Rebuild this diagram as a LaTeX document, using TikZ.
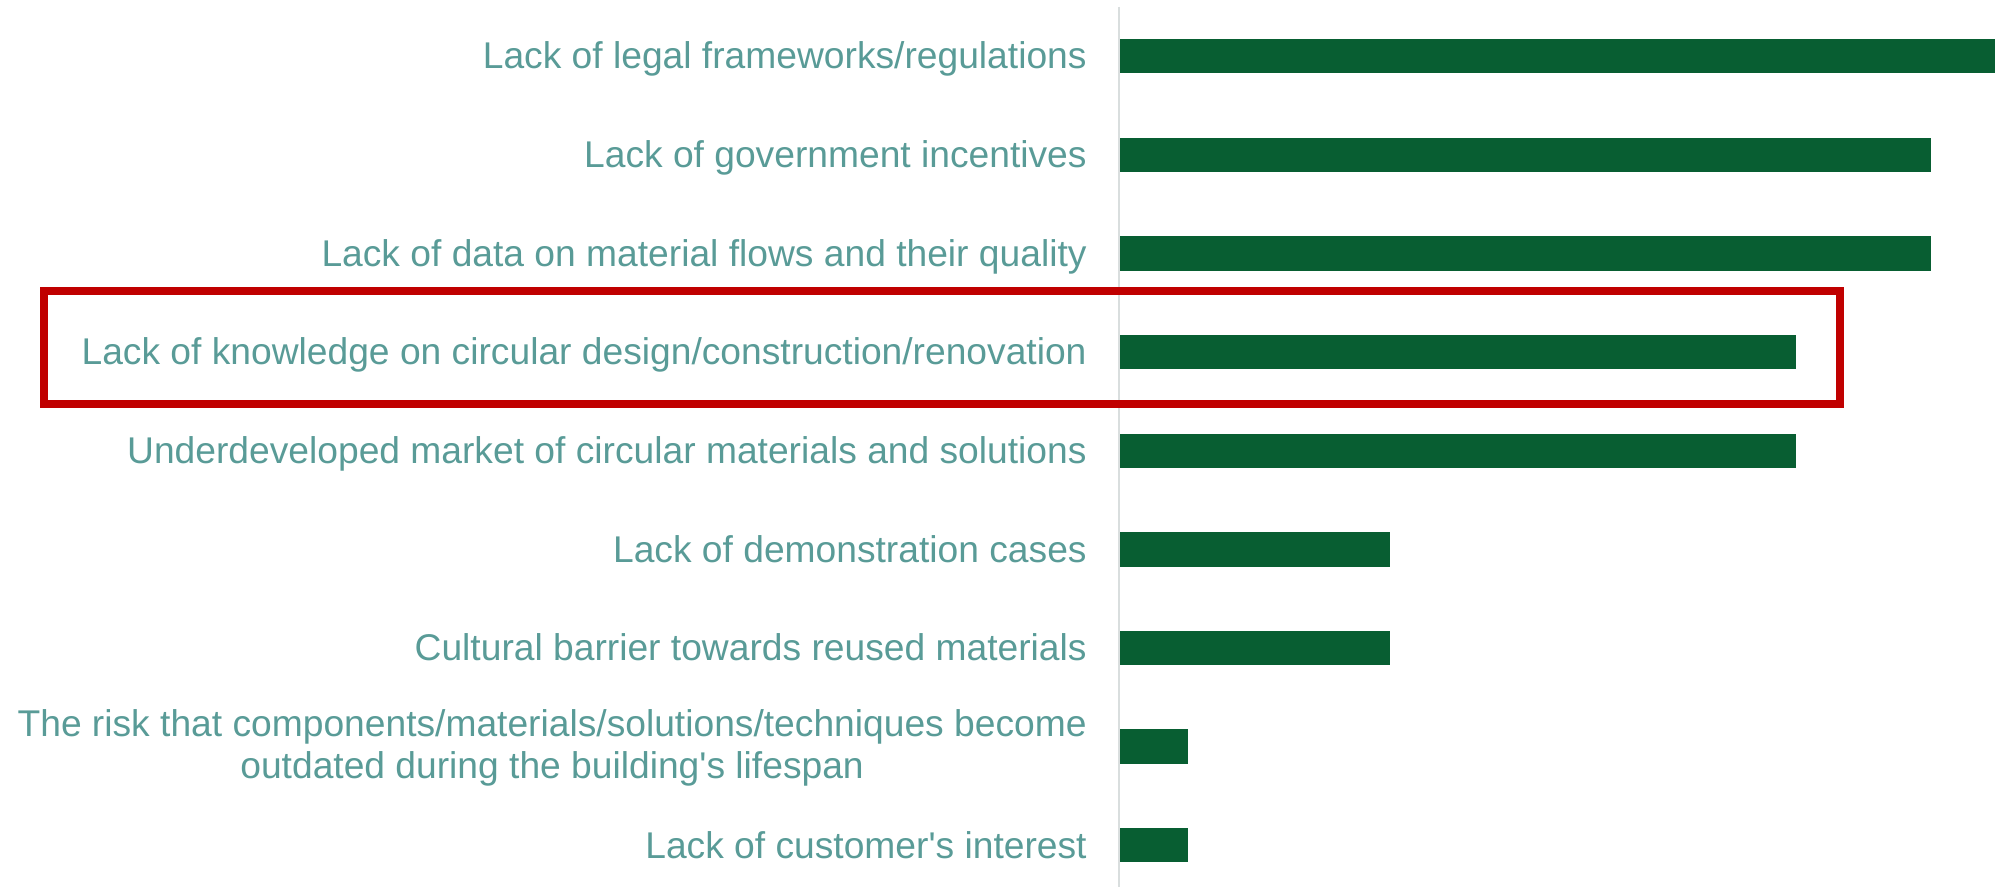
\documentclass[tikz,border=0pt]{standalone}
\usepackage{fontspec}
\setmainfont{Liberation Sans}
\definecolor{lbl}{RGB}{89,155,151}
\definecolor{bargreen}{RGB}{8,94,50}
\definecolor{axisgray}{RGB}{217,222,222}
\definecolor{boxred}{RGB}{192,0,0}
\begin{document}
\begin{tikzpicture}[x=0.5pt,y=-0.5pt,
  lab/.style={anchor=base east,inner sep=0pt,text=lbl,font=\fontsize{18.6pt}{20.8pt}\selectfont,align=center},
  barfill/.style={fill=bargreen}]
\useasboundingbox (0,0) rectangle (1995,887);
% axis
\coordinate (axtop) at (1119,7);
\coordinate (axbot) at (1119,887);
\draw[axisgray,line width=1pt] (axtop) -- (axbot);
% bars
\foreach \yc/\len in {56.2/876, 154.8/811, 253.5/811, 352/676, 450.7/676, 549.3/270, 647.8/270, 746.5/68, 845.2/68}{
  \fill[barfill] (1120,\yc-17.2) rectangle (1120+\len,\yc+17.2);
}
% labels
\node[lab] (l1) at (1087,69) {Lack of legal frameworks/regulations};
\node[lab] (l2) at (1087,167.6) {Lack of government incentives};
\node[lab] (l3) at (1087,266.3) {Lack of data on material flows and their quality};
\node[lab] (l4) at (1087,364.8) {Lack of knowledge on circular design/construction/renovation};
\node[lab] (l5) at (1087,463.5) {Underdeveloped market of circular materials and solutions};
\node[lab] (l6) at (1087,562.1) {Lack of demonstration cases};
\node[lab] (l7) at (1087,660.6) {Cultural barrier towards reused materials};
\node[lab] (l8) at (1087,778) {The risk that components/materials/solutions/techniques become\\outdated during the building\textquotesingle s lifespan};
\node[lab] (l9) at (1087,858) {Lack of customer\textquotesingle s interest};
% highlight box
\draw[boxred,line width=4.2pt] (44,291) rectangle (1840,404);
\end{tikzpicture}
\end{document}
